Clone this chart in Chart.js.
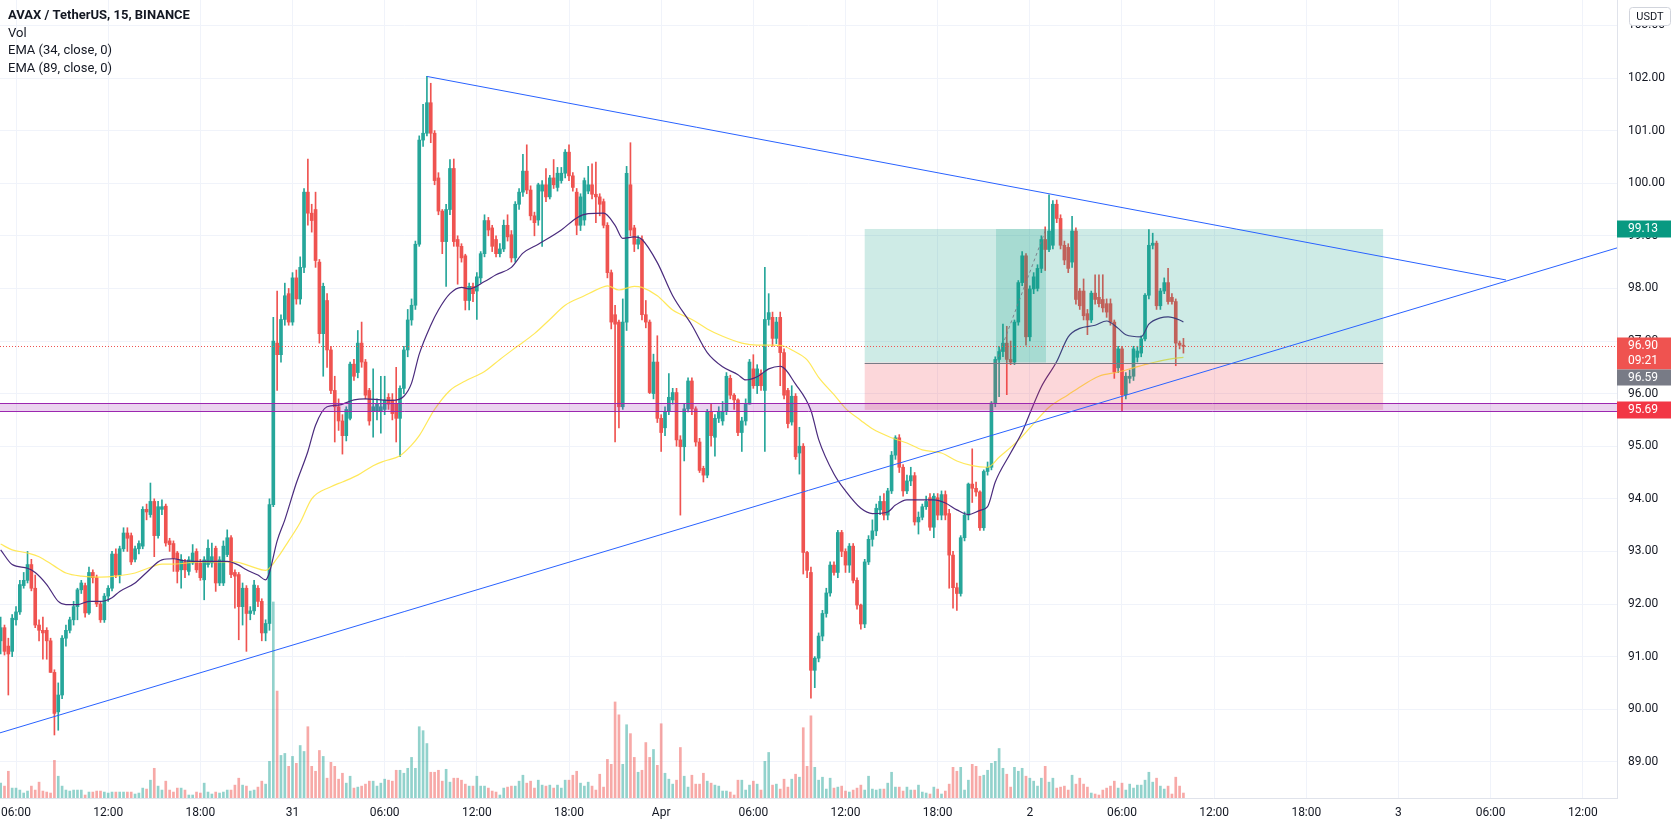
<!DOCTYPE html>
<html>
<head>
<meta charset="utf-8">
<script src="https://cdn.jsdelivr.net/npm/chart.js@4.4.1/dist/chart.umd.min.js"></script>
<style>
html,body{margin:0;padding:0;background:#ffffff;overflow:hidden;}
#wrap{width:1674px;height:830px;position:relative;}
canvas{display:block;}
</style>
</head>
<body>
<div id="wrap"><canvas id="chart" width="1674" height="830"></canvas></div>
<script>
// ---- AVAX / TetherUS 15m candles (index 0 = Mar 30 05:00, one step = 15 min) ----
const opens = [
91.3,91.55,91.2,91.1,91.7,91.85,92.35,92.45,92.75,92.3,
91.6,91.5,91.5,91.3,90.7,89.95,90.27,91.35,91.5,91.7,
91.95,92.27,92.35,91.83,92.6,92.5,92.0,91.7,92.15,92.3,
92.95,92.55,93.05,93.35,93.3,92.85,93.05,93.1,93.8,93.7,
93.95,93.3,93.8,93.86,93.2,93.15,92.97,92.65,92.8,92.62,
92.78,93.0,92.78,92.46,92.75,92.78,93.06,92.4,92.4,92.94,
93.26,92.6,92.56,91.95,92.3,91.82,91.87,92.3,92.05,91.45,
91.63,93.89,96.96,96.74,97.41,97.9,97.36,98.2,97.8,98.4,
99.83,99.43,99.5,98.5,97.14,97.77,96.83,96.06,95.75,95.48,
95.2,95.53,96.56,96.4,96.96,96.6,96.06,95.66,95.66,95.66,
95.7,95.93,95.88,95.8,95.53,96.1,96.83,97.4,97.68,98.84,
100.82,100.95,101.53,100.95,100.1,99.47,98.89,99.5,100.28,98.93,
98.8,98.62,97.77,98.04,97.95,98.2,98.66,99.29,99.15,98.93,
98.66,98.75,99.2,99.02,98.58,99.6,99.83,100.23,99.87,99.38,
99.3,99.85,99.97,99.74,100.1,99.92,100.05,100.19,100.59,100.14,
99.83,99.2,99.3,99.85,99.97,99.79,99.74,99.65,99.2,98.3,
97.5,97.36,95.75,97.36,99.97,99.15,98.84,98.93,97.5,97.36,
96.0,96.6,95.53,95.35,95.66,95.88,96.02,95.12,94.99,95.71,
96.24,95.71,95.08,94.58,94.45,95.66,95.17,95.53,95.48,95.66,
96.29,95.97,95.88,95.26,95.48,95.8,96.47,96.15,96.38,96.06,
97.41,97.45,97.05,97.45,96.78,96.06,95.46,95.95,94.87,95.0,
92.98,92.6,90.74,90.97,91.39,91.82,92.21,92.74,92.6,93.36,
93.0,92.74,93.1,92.45,91.98,91.62,92.8,93.23,93.39,93.79,
93.95,93.69,94.15,94.83,95.16,94.6,94.15,94.34,94.44,93.56,
93.65,93.85,94.02,93.46,94.02,93.69,94.08,93.72,92.93,92.31,
92.2,93.26,93.69,94.28,94.2,94.13,93.45,94.52,94.6,95.82,
96.65,96.8,96.96,96.65,96.6,97.36,98.11,98.62,97.08,97.99,
98.0,98.38,98.93,98.74,98.82,99.6,99.33,98.82,98.78,98.5,
99.09,97.95,97.95,97.52,97.4,97.91,97.83,97.79,97.71,97.71,
97.36,96.49,96.85,95.98,96.29,96.33,96.69,96.77,97.04,97.87,
98.82,98.86,97.67,97.95,98.11,97.83,97.75,96.96,96.92
];
const highs = [
91.75,91.6,91.35,91.8,91.95,92.45,92.6,93.0,92.85,92.55,
91.7,91.75,91.55,91.35,90.75,90.5,91.4,91.6,91.75,92.05,
92.3,92.45,92.4,92.7,92.65,92.55,92.05,92.2,92.35,93.0,
93.05,93.1,93.45,93.45,93.35,93.1,93.2,93.85,93.9,94.3,
94.0,93.95,93.98,93.9,93.25,93.2,93.0,92.94,92.85,92.9,
93.13,93.05,92.85,92.9,93.22,93.16,93.1,92.9,93.2,93.41,
93.3,92.65,92.6,92.4,92.35,91.95,92.45,92.35,92.1,91.7,
94.0,97.45,97.95,97.5,98.1,98.0,98.3,98.35,98.6,99.9,
100.46,99.6,99.83,98.55,98.1,97.9,96.9,96.33,95.9,95.6,
95.75,96.6,96.65,97.2,97.36,96.65,96.1,96.47,95.9,96.33,
96.33,96.0,96.0,96.5,96.15,96.9,97.6,97.8,98.9,100.9,
101.5,102.03,101.9,101.0,100.2,99.5,99.6,100.45,100.46,99.0,
98.85,98.65,98.1,98.1,98.3,98.7,99.4,99.35,99.2,99.0,
98.85,99.3,99.4,99.1,99.65,99.9,100.55,100.73,99.95,99.45,
100.0,100.05,100.28,100.15,100.45,100.3,100.3,100.64,100.73,100.2,
99.9,99.8,100.1,100.32,100.37,100.4,99.8,99.7,99.25,98.35,
97.68,97.4,97.8,100.32,100.77,99.2,99.0,99.0,97.77,97.4,
96.75,97.1,95.6,95.75,96.38,96.1,96.1,95.2,95.8,96.3,
96.3,95.75,95.15,94.62,95.7,95.8,95.6,95.75,95.85,96.4,
96.35,96.0,95.9,95.55,95.9,96.65,96.74,96.55,96.45,98.4,
97.9,97.55,97.45,97.55,96.85,96.1,96.15,96.0,95.36,95.05,
93.0,92.7,91.0,91.45,91.88,92.3,92.8,92.8,93.4,93.4,
93.05,93.15,93.15,92.5,92.0,92.85,93.3,93.6,93.9,94.05,
94.1,94.2,94.9,95.2,95.22,94.65,94.45,94.6,94.5,93.75,
93.9,94.05,94.1,94.1,94.1,94.15,94.15,93.8,93.0,92.4,
93.3,93.75,94.3,94.95,94.32,94.15,94.55,94.7,95.85,96.7,
96.9,97.32,97.28,97.0,97.4,98.15,98.7,98.66,98.05,98.3,
98.45,99.0,99.17,99.78,99.67,99.68,99.4,98.9,98.85,99.37,
99.15,98.0,98.18,97.6,97.95,98.26,98.26,98.26,97.8,97.8,
97.4,96.9,96.9,96.4,96.45,96.9,96.9,97.1,97.9,99.12,
99.05,98.9,98.0,98.2,98.38,97.9,97.8,97.0,97.05
];
const lows = [
91.05,91.03,90.27,91.0,91.6,91.8,92.3,92.4,92.25,91.55,
91.3,90.95,90.95,90.7,89.51,89.6,90.2,91.2,91.45,91.6,
91.7,92.2,91.75,91.8,92.4,91.95,91.65,91.65,92.05,92.25,
92.5,92.4,93.0,93.0,92.75,92.8,92.95,93.05,93.6,93.65,
92.9,93.25,93.7,93.1,93.0,92.62,92.4,92.3,92.5,92.55,
92.75,92.6,92.45,92.08,92.7,92.7,92.24,92.35,92.35,92.9,
92.5,91.92,91.32,91.6,91.1,91.7,91.8,91.95,91.3,91.3,
91.5,93.85,96.06,96.6,97.3,97.3,97.3,97.7,97.7,98.3,
99.2,99.07,98.4,96.96,96.33,96.5,96.0,95.08,95.3,94.85,
95.1,95.5,96.25,96.3,96.5,95.9,95.4,95.17,95.5,95.25,
95.6,95.7,95.5,95.08,94.8,96.0,96.7,97.3,97.6,98.8,
100.7,100.9,100.77,99.97,99.4,98.66,98.04,99.4,98.8,98.08,
98.5,97.59,97.59,97.75,97.41,98.1,98.6,99.0,98.7,98.6,
98.6,98.7,98.9,98.5,98.5,99.5,99.75,99.8,99.3,99.0,
99.2,98.8,99.65,99.7,99.9,99.85,100.0,100.1,100.05,99.85,
99.02,99.1,99.2,99.8,99.7,99.25,99.38,99.15,98.2,97.23,
95.08,95.35,95.7,97.2,99.0,98.7,98.75,97.4,97.25,96.0,
95.9,95.45,94.9,95.2,95.6,95.8,95.0,93.69,94.72,95.65,
95.6,95.0,94.5,94.32,94.4,95.0,94.81,95.45,95.4,95.6,
95.9,95.7,95.2,94.9,95.4,95.8,96.1,96.0,96.06,94.9,
97.3,96.9,96.95,96.15,95.9,95.35,95.4,94.75,94.47,92.57,
92.5,90.21,90.41,90.9,91.3,91.75,92.15,92.55,92.5,92.9,
92.6,92.6,92.4,91.9,91.52,91.55,92.75,93.1,93.3,93.7,
93.6,93.6,94.1,94.75,94.5,94.05,94.1,94.25,93.5,93.33,
93.6,93.8,93.4,93.26,93.6,93.6,93.6,92.3,91.92,91.88,
92.15,93.2,93.6,93.93,94.05,93.4,93.4,94.45,94.55,95.75,
95.94,96.7,95.98,96.55,96.55,97.3,98.05,96.92,97.0,97.9,
97.95,98.3,98.34,98.7,98.75,99.25,98.75,98.45,98.3,98.4,
97.7,97.6,97.4,97.12,97.35,97.7,97.65,97.55,97.45,97.3,
96.29,96.4,95.66,95.9,96.2,96.25,96.6,96.7,97.0,97.8,
98.75,97.6,97.6,97.9,97.7,97.7,96.53,96.85,96.77
];
const closes = [
91.55,91.1,91.05,91.73,91.85,92.37,92.45,92.75,92.3,91.6,
91.5,91.45,91.3,90.7,89.92,90.27,91.35,91.5,91.7,91.95,
92.27,92.4,91.83,92.6,92.5,92.0,91.7,92.15,92.3,92.95,
92.55,93.05,93.35,93.25,92.8,93.05,93.15,93.8,93.75,93.95,
93.3,93.85,93.85,93.16,93.13,92.87,92.62,92.84,92.65,92.84,
92.97,92.65,92.5,92.84,93.06,92.9,92.4,92.84,93.1,93.26,
92.56,92.53,91.95,92.3,91.82,91.87,92.36,92.05,91.45,91.63,
93.89,97.0,96.74,97.41,97.86,97.36,98.2,97.8,98.4,99.83,
99.43,99.29,98.53,97.14,98.04,96.83,96.06,95.75,95.48,95.2,
95.7,96.56,96.33,96.96,96.6,95.97,95.48,95.75,95.8,95.75,
95.88,95.8,95.62,95.53,96.1,96.83,97.4,97.68,98.84,100.82,
100.95,101.53,100.95,100.05,99.47,98.89,99.5,100.28,98.89,98.8,
98.58,97.77,98.04,97.9,98.22,98.66,99.29,99.11,98.8,98.66,
98.75,99.2,98.98,98.58,99.6,99.83,100.23,99.87,99.38,99.25,
99.97,99.97,99.74,100.1,99.97,100.19,100.19,100.59,100.14,99.92,
99.2,99.74,100.05,99.97,99.79,99.74,99.6,99.2,98.3,97.36,
97.32,95.75,97.36,100.19,99.11,98.84,98.93,97.5,97.36,96.02,
96.6,95.53,95.26,95.66,95.93,96.02,95.12,94.99,95.71,96.24,
95.71,95.08,94.54,94.45,95.66,95.2,95.53,95.66,95.66,96.33,
95.97,95.88,95.26,95.48,95.8,96.6,96.15,96.47,96.15,97.41,
97.54,97.05,97.36,96.78,95.97,95.43,95.95,94.8,95.0,92.98,
92.64,90.74,90.97,91.39,91.82,92.21,92.74,92.6,93.36,93.0,
92.74,93.1,92.45,91.98,91.62,92.8,93.23,93.39,93.82,93.95,
93.69,94.15,94.83,95.16,94.6,94.15,94.34,94.44,93.56,93.65,
93.85,93.95,93.46,94.05,93.69,94.08,93.69,92.93,92.31,92.2,
93.26,93.69,94.28,94.2,94.13,93.45,94.52,94.6,95.82,96.65,
96.8,96.96,96.65,96.6,97.36,98.11,98.62,97.08,97.99,98.22,
98.38,98.93,98.74,99.09,99.6,99.33,98.82,98.54,98.38,99.09,
97.79,97.67,97.48,97.4,97.91,97.79,97.71,97.63,97.55,97.36,
96.41,96.85,95.98,96.33,96.33,96.85,96.81,97.04,97.87,98.82,
98.86,97.67,97.95,98.11,97.75,97.75,96.96,96.92,96.9
];
const volumes = [
15,12,27,10,10,8,5,7,12,8,
16,7,6,5,38,22,12,8,7,8,
8,8,3,6,6,7,7,6,5,6,
6,6,6,6,6,4,5,10,9,18,
30,12,8,17,8,6,10,10,8,3,
3,6,5,15,6,4,6,5,6,8,
8,13,20,13,12,7,8,11,17,14,
37,198,108,43,45,32,42,35,53,47,
72,32,27,48,42,20,36,32,19,25,
15,22,10,11,12,14,17,17,12,15,
19,18,17,28,28,25,30,41,30,72,
68,55,26,26,28,17,29,16,20,20,
18,14,12,12,22,12,12,10,7,6,
3,10,11,12,12,17,23,15,17,10,
18,13,12,13,10,13,10,18,18,23,
27,15,12,16,12,8,24,11,39,34,
97,84,34,74,65,41,26,28,56,41,
49,33,75,25,19,14,18,51,22,11,
23,14,14,25,17,15,13,12,7,7,
6,3,18,18,8,13,17,14,8,37,
46,13,14,9,19,11,19,24,21,71,
32,83,31,18,21,9,20,10,11,12,
7,6,8,10,13,8,22,9,8,9,
9,15,26,11,11,7,11,8,8,13,
6,5,4,11,9,4,7,14,31,27,
31,8,18,34,32,22,23,28,35,37,
50,30,24,11,31,27,30,22,20,17,
12,20,32,16,20,10,11,12,8,23,
14,20,14,11,5,4,3,8,10,12,
17,10,15,8,14,10,13,13,18,26,
16,20,12,9,12,4,21,12,5
];
// EMA readings [candle index, value]
const ema34Points = [
[0,93.03],[3,92.75],[7,92.68],[9,92.6],[12,92.37],[15,92.05],[17,91.99],[20,91.99],[23,92.05],[26,92.05],
[29,92.12],[31,92.24],[35,92.4],[38,92.6],[42,92.84],[45,92.86],[48,92.82],[53,92.81],[59,92.81],[62,92.74],
[64,92.65],[67,92.55],[69,92.46],[70,92.6],[72,93.2],[74,93.6],[77,94.3],[80,94.9],[82,95.4],[85,95.75],
[88,95.78],[92,95.88],[95,95.9],[99,95.88],[102,95.87],[105,95.95],[107,96.2],[109,96.75],[112,97.3],[114,97.59],
[117,97.9],[120,98.02],[122,97.99],[126,98.13],[129,98.26],[133,98.4],[136,98.67],[140,98.84],[146,99.11],[150,99.34],
[153,99.42],[157,99.43],[160,99.2],[162,98.95],[165,98.98],[167,98.93],[171,98.49],[175,97.86],[180,97.3],[184,96.78],
[188,96.51],[192,96.36],[194,96.26],[197,96.32],[200,96.47],[203,96.52],[207,96.18],[211,95.68],[213,95.13],[217,94.47],
[220,94.15],[224,93.82],[227,93.72],[231,93.75],[233,93.88],[236,93.98],[243,93.98],[246,93.92],[249,93.79],[252,93.7],
[255,93.78],[257,93.85],[259,94.32],[263,94.87],[266,95.27],[268,95.62],[271,96.13],[275,96.61],[278,97.08],[281,97.24],
[285,97.3],[288,97.38],[291,97.24],[293,97.12],[297,97.08],[299,97.32],[302,97.44],[304,97.46],[307,97.4],[308,97.36]
];
const ema89Points = [
[0,93.14],[3,93.03],[7,92.97],[10,92.9],[14,92.72],[17,92.59],[21,92.53],[26,92.51],[30,92.53],[35,92.59],
[38,92.67],[42,92.76],[45,92.76],[52,92.8],[61,92.8],[65,92.72],[69,92.64],[72,92.87],[75,93.2],[78,93.55],
[81,94.0],[86,94.23],[89,94.32],[93,94.45],[97,94.63],[100,94.72],[104,94.82],[107,95.02],[109,95.2],[113,95.7],
[117,96.06],[121,96.24],[126,96.42],[130,96.65],[134,96.87],[139,97.14],[143,97.41],[147,97.68],[152,97.86],[156,98.0],
[158,98.05],[161,97.97],[165,98.04],[167,98.02],[171,97.86],[175,97.59],[180,97.41],[184,97.23],[188,97.09],[193,96.96],
[197,96.92],[201,96.92],[204,96.9],[206,96.83],[210,96.64],[213,96.31],[217,95.98],[220,95.72],[224,95.49],[227,95.33],
[232,95.16],[236,95.06],[240,94.93],[245,94.87],[249,94.72],[253,94.63],[257,94.6],[260,94.79],[265,95.11],[269,95.43],
[273,95.74],[278,95.98],[282,96.17],[286,96.33],[291,96.41],[295,96.49],[299,96.57],[304,96.65],[308,96.69]
];
// time axis: candle index of each label
const xTickPositions = [4,28,52,76,100,124,148,172,196,220,244,268,292,316,340,364,388,412];
const xTickLabels = ['06:00','12:00','18:00','31','06:00','12:00','18:00','Apr','06:00','12:00','18:00','2','06:00','12:00','18:00','3','06:00','12:00'];
const priceTicks = [89,90,91,92,93,94,95,96,97,98,99,100,101,102,103];
// drawings
const upperTrend = [[111,102.03],[392,98.16]];
const lowerTrend = [[-0.2,89.55],[420.9,98.77]];
const zoneBand = [95.66,95.82];
const posRange = [225,360];
const posTarget = 99.13, posEntry = 96.59, posStop = 95.69;
const posHitRange = [259.2,272.2];
const posPath = [[259.2,96.59],[272.2,99.13]];
const lastPrice = 96.90, lastCountdown = '09:21';
const zoneLabel = 95.69;
const legendLines = ['AVAX / TetherUS, 15, BINANCE','Vol','EMA (34, close, 0)','EMA (89, close, 0)'];

const xMin = -0.17, xMax = 420.9, yMin = 88.312, yMax = 103.483, volMax = 806;
const UP = '#26a69a', DOWN = '#ef5350';
const isUp = closes.map((c,i)=>c>=opens[i]);

const wickData = closes.map((c,i)=>({x:i, y:[lows[i], highs[i]]}));
const bodyData = closes.map((c,i)=>({x:i, y:[Math.min(opens[i],c), Math.max(opens[i],c)]}));
const volData = volumes.map((v,i)=>({x:i, y:v}));
const candleColors = isUp.map(u=>u?UP:DOWN);
const volColors = isUp.map(u=>u?'rgba(38,166,154,0.5)':'rgba(239,83,80,0.5)');

Chart.defaults.font.family = 'Roboto, "Liberation Sans", sans-serif';

const overlayPlugin = {
  id:'overlay',
  afterDatasetsDraw(chart){
    const {ctx, chartArea:a, scales:{x,y}} = chart;
    const X = v=>x.getPixelForValue(v), Y = v=>y.getPixelForValue(v);
    ctx.save();
    ctx.beginPath(); ctx.rect(a.left,a.top,a.right-a.left,a.bottom-a.top); ctx.clip();
    // long position tool
    const x0 = X(posRange[0]), x1 = X(posRange[1]);
    ctx.fillStyle='rgba(8,153,129,0.2)';
    ctx.fillRect(x0, Y(posTarget), x1-x0, Y(posEntry)-Y(posTarget));
    ctx.fillStyle='rgba(242,54,69,0.2)';
    ctx.fillRect(x0, Y(posEntry), x1-x0, Y(posStop)-Y(posEntry));
    const h0 = X(posHitRange[0]), h1 = X(posHitRange[1]);
    ctx.fillStyle='rgba(8,153,129,0.2)';
    ctx.fillRect(h0, Y(posTarget), h1-h0, Y(posEntry)-Y(posTarget));
    ctx.strokeStyle='#787b86'; ctx.lineWidth=1;
    ctx.beginPath(); ctx.moveTo(x0, Math.round(Y(posEntry))+0.5); ctx.lineTo(x1, Math.round(Y(posEntry))+0.5); ctx.stroke();
    ctx.setLineDash([3,3]); ctx.strokeStyle='rgba(120,123,134,0.9)';
    ctx.beginPath(); ctx.moveTo(X(posPath[0][0]),Y(posPath[0][1])); ctx.lineTo(X(posPath[1][0]),Y(posPath[1][1])); ctx.stroke();
    ctx.setLineDash([]);
    // zone band
    const b0 = Math.round(Y(zoneBand[1]))+0.5, b1 = Math.round(Y(zoneBand[0]))+0.5;
    ctx.fillStyle='rgba(156,39,176,0.2)';
    ctx.fillRect(a.left, b0, a.right-a.left, b1-b0);
    ctx.strokeStyle='#9c27b0'; ctx.lineWidth=1;
    ctx.beginPath(); ctx.moveTo(a.left,b0); ctx.lineTo(a.right,b0); ctx.moveTo(a.left,b1); ctx.lineTo(a.right,b1); ctx.stroke();
    // last price dotted line
    const lp = Math.round(Y(lastPrice))+0.5;
    ctx.setLineDash([1,2]); ctx.strokeStyle='#ef5350';
    ctx.beginPath(); ctx.moveTo(a.left,lp); ctx.lineTo(a.right,lp); ctx.stroke();
    ctx.setLineDash([]);
    // trend lines
    ctx.strokeStyle='#2962ff'; ctx.lineWidth=1;
    [upperTrend, lowerTrend].forEach(l=>{
      ctx.beginPath(); ctx.moveTo(X(l[0][0]),Y(l[0][1])); ctx.lineTo(X(l[1][0]),Y(l[1][1])); ctx.stroke();
    });
    ctx.restore();
  },
  afterDraw(chart){
    const {ctx, chartArea:a, scales:{y}} = chart;
    const Y = v=>y.getPixelForValue(v);
    const bx = a.right, bw = 54;
    ctx.save();
    ctx.font = '12px Roboto, "Liberation Sans", sans-serif';
    ctx.textAlign='center'; ctx.textBaseline='middle';
    const box = (top, h, color, lines)=>{
      ctx.fillStyle=color; ctx.fillRect(bx, top, bw, h);
      ctx.fillStyle='#ffffff';
      lines.forEach((t,i)=>ctx.fillText(t, bx+bw/2-1, top + 8.5 + i*15));
    };
    box(Math.round(Y(posTarget))-8.5, 17, '#089981', [posTarget.toFixed(2)]);
    const lpTop = Math.round(Y(lastPrice))-8.5;
    box(lpTop, 32, '#ef5350', [lastPrice.toFixed(2), lastCountdown]);
    box(lpTop+32, 16, '#787b86', [posEntry.toFixed(2)]);
    box(Math.round(Y(zoneLabel))-8.5, 17, '#f23645', [zoneLabel.toFixed(2)]);
    // currency box
    ctx.fillStyle='#ffffff'; ctx.strokeStyle='#d1d4dc'; ctx.lineWidth=1;
    ctx.beginPath(); ctx.roundRect(1629.5, 7.5, 41, 18, 3); ctx.fill(); ctx.stroke();
    ctx.fillStyle='#131722'; ctx.font='11px Roboto, "Liberation Sans", sans-serif';
    ctx.fillText('USDT', 1650, 17);
    // legend
    ctx.textAlign='left';
    ctx.fillStyle='#131722';
    ctx.font='bold 13px Roboto, "Liberation Sans", sans-serif';
    ctx.fillText(legendLines[0], 8, 16);
    ctx.font='13px Roboto, "Liberation Sans", sans-serif';
    ctx.fillText(legendLines[1], 8, 34);
    ctx.fillText(legendLines[2], 8, 51);
    ctx.fillText(legendLines[3], 8, 69);
    ctx.restore();
  }
};

new Chart(document.getElementById('chart'), {
  type:'bar',
  data:{datasets:[
    {type:'line', label:'EMA 34', data:ema34Points.map(p=>({x:p[0],y:p[1]})), borderColor:'#4a2b7d', borderWidth:1.2, pointRadius:0, cubicInterpolationMode:'monotone', order:1, yAxisID:'y'},
    {type:'line', label:'EMA 89', data:ema89Points.map(p=>({x:p[0],y:p[1]})), borderColor:'rgba(255,228,60,0.85)', borderWidth:1.2, pointRadius:0, cubicInterpolationMode:'monotone', order:2, yAxisID:'y'},
    {label:'Body', data:bodyData, backgroundColor:candleColors, barThickness:3, minBarLength:1, grouped:false, order:8, yAxisID:'y'},
    {label:'Wick', data:wickData, backgroundColor:candleColors, barThickness:1, grouped:false, order:9, yAxisID:'y'},
    {label:'Vol', data:volData, backgroundColor:volColors, barThickness:2, grouped:false, order:10, yAxisID:'yVol'}
  ]},
  options:{
    responsive:false, animation:false, events:[],
    layout:{padding:0, autoPadding:false},
    plugins:{legend:{display:false}, tooltip:{enabled:false}},
    scales:{
      x:{type:'linear', min:xMin, max:xMax, offset:false,
        afterBuildTicks:ax=>{ax.ticks = xTickPositions.map(v=>({value:v}));},
        ticks:{callback:(v,i)=>xTickLabels[i], color:'#131722', font:{size:12}, padding:8, maxRotation:0, autoSkip:false},
        grid:{color:'#f0f3fa', drawTicks:false, offset:false},
        border:{color:'#e0e3eb'},
        afterFit:s=>{s.height=32; s.paddingLeft=0; s.paddingRight=0;}
      },
      y:{position:'right', min:yMin, max:yMax,
        afterBuildTicks:ax=>{ax.ticks = priceTicks.map(v=>({value:v}));},
        ticks:{callback:v=>Number(v).toFixed(2), color:'#131722', font:{size:12}, padding:11},
        grid:{color:'#f0f3fa', drawTicks:false},
        border:{color:'#e0e3eb'},
        afterFit:s=>{s.width=57; s.paddingTop=0; s.paddingBottom=0;}
      },
      yVol:{display:false, min:0, max:volMax}
    }
  },
  plugins:[overlayPlugin]
});
</script>
</body>
</html>
